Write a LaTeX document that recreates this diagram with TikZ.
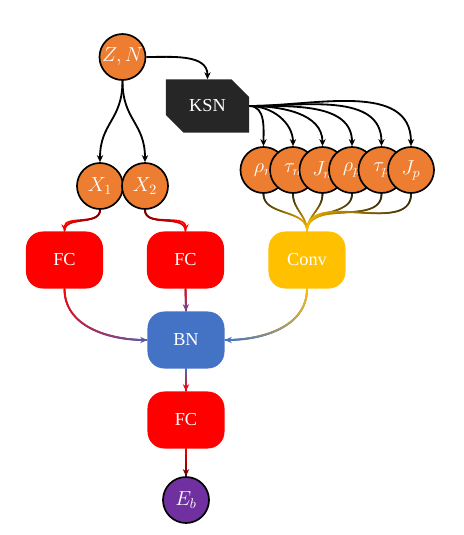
\documentclass[tikz,border=0pt]{standalone}
\usepackage{fontspec}
\setmainfont{Liberation Serif}
\usepackage{amsmath}
\usepackage{xcolor}
\usepackage{tikz}
\usetikzlibrary{arrows.meta}
\usetikzlibrary{shapes.misc}
\usetikzlibrary{decorations.markings}
\usetikzlibrary{backgrounds}

\definecolor{inorange}{HTML}{ED7D31}
\definecolor{fcred}{HTML}{FF0000}
\definecolor{convyellow}{HTML}{FFC000}
\definecolor{bnblue}{HTML}{4472C4}
\definecolor{outpurple}{HTML}{7030A0}
\definecolor{ksngray}{HTML}{262626}
\definecolor{darkred}{HTML}{6B0000}
\definecolor{darkolive}{HTML}{2A2008}

\tikzset{
	neuron/.style={circle,draw=black,line width=1.2pt,fill=#1,text=white,minimum size=1.15cm,inner sep=0pt,font=\Large},
	layer/.style={rounded corners=0.42cm,fill=#1,text=white,minimum width=1.925cm,minimum height=1.425cm,font=\fontsize{13}{15}\selectfont},
	link/.style={line width=1.3pt,-{Stealth[length=5pt,width=4.5pt]}},
	gradtip/.style={draw=#1,link},
	grad/.style 2 args={postaction={decorate,decoration={markings,
		mark=between positions 0 and 1 step 0.35pt with {
			\pgfmathtruncatemacro\gradpct{100*\pgfkeysvalueof{/pgf/decoration/mark info/distance from start}/\pgfdecoratedpathlength}
			\fill[color=#2!\gradpct!#1] (0,0) circle (0.7pt);
		}}}}
}

\begin{document}
\begin{tikzpicture}[x=0.025cm,y=-0.025cm]
	\useasboundingbox (0,0) rectangle (463,535);
	% inputs
	\node[neuron=inorange] (ZN) at (122.5,57) {$Z,N$};
	\node[chamfered rectangle,chamfered rectangle corners={north east,south west},
		chamfered rectangle xsep=0.28cm,chamfered rectangle ysep=0.28cm,inner sep=0pt,
		minimum width=2.075cm,minimum height=1.325cm,fill=ksngray,text=white,
		font=\fontsize{13}{15}\selectfont] (KSN) at (207.5,106) {KSN};
	\node[neuron=inorange] (X1) at (100,186) {$X_1$};
	\node[neuron=inorange] (X2) at (145,186) {$X_2$};
	% density features
	\node[neuron=inorange] (rn) at (263.5,170) {$\rho_n$};
	\node[neuron=inorange] (tn) at (293,170) {$\tau_n$};
	\node[neuron=inorange] (Jn) at (322.5,170) {$J_n$};
	\node[neuron=inorange] (rp) at (352,170) {$\rho_p$};
	\node[neuron=inorange] (tp) at (381.5,170) {$\tau_p$};
	\node[neuron=inorange] (Jp) at (411,170) {$J_p$};
	% layers
	\node[layer=fcred] (FC1) at (64.5,260) {FC};
	\node[layer=fcred] (FC2) at (185.5,260) {FC};
	\node[layer=convyellow] (Conv) at (307,260) {Conv};
	\node[layer=bnblue] (BN) at (186,340) {BN};
	\node[layer=fcred] (FC3) at (186,420) {FC};
	\node[neuron=outpurple] (Eb) at (186,500) {$E_b$};

	\begin{scope}[on background layer]
		\draw[link] (ZN.east) to[out=0,in=90] (KSN.north);
		\draw[link] (ZN.south) to[out=-90,in=90,looseness=1.2] (X1.north);
		\draw[link] (ZN.south) to[out=-90,in=90,looseness=1.2] (X2.north);
		\foreach \f in {rn,tn,Jn,rp,tp,Jp}
			\draw[link] (KSN.east) to[out=0,in=90] (\f.north);
		\foreach \f in {rn,tn,Jn,rp,tp,Jp}
			\path[grad={darkolive}{convyellow}] (\f.south) to[out=-90,in=90] (Conv.north);
		\path[gradtip=fcred,grad={darkred}{fcred}] (X1.south) to[out=-90,in=90] (FC1.north);
		\path[gradtip=fcred,grad={darkred}{fcred}] (X2.south) to[out=-90,in=90] (FC2.north);
		\path[gradtip=bnblue!80!purple,grad={fcred}{bnblue!80!purple}] (FC1.south) to[out=-90,in=180] (BN.west);
		\path[gradtip=bnblue!60!purple,grad={fcred}{bnblue!60!purple}] (FC2.south) -- (BN.north);
		\path[gradtip=bnblue,grad={convyellow}{bnblue}] (Conv.south) to[out=-90,in=0] (BN.east);
		\path[gradtip=fcred!80!purple,grad={bnblue}{fcred!80!purple}] (BN.south) -- (FC3.north);
		\path[gradtip=darkred,grad={fcred}{darkred}] (FC3.south) -- (Eb.north);
	\end{scope}
\end{tikzpicture}
\end{document}
